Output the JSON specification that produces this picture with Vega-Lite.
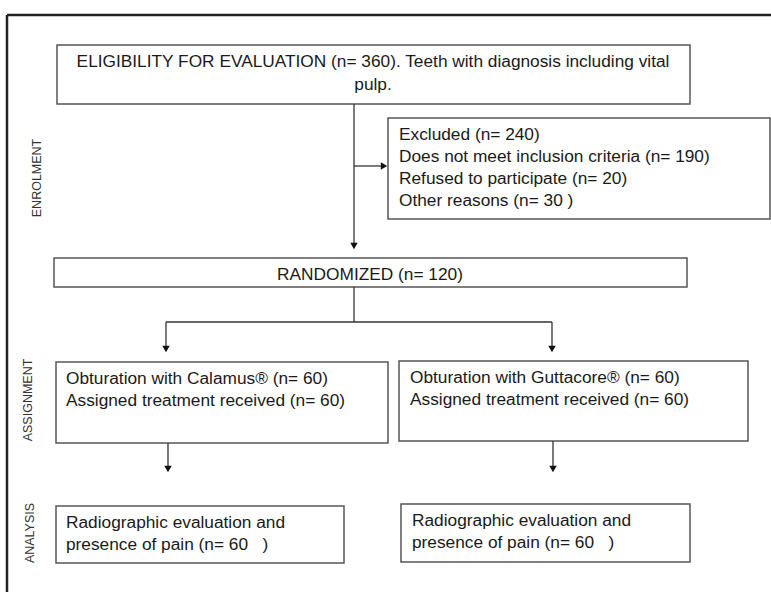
{
  "$schema": "https://vega.github.io/schema/vega-lite/v6.json",
  "width": 771,
  "height": 592,
  "autosize": "none",
  "padding": 0,
  "background": "white",
  "config": {"view": {"stroke": null}, "axis": {"disable": true}},
  "datasets": {
    "boxes": [
      {"x": 57, "x2": 690, "y": 45, "y2": 104},
      {"x": 388, "x2": 770, "y": 118, "y2": 219},
      {"x": 54, "x2": 687, "y": 258, "y2": 287},
      {"x": 56, "x2": 388, "y": 362, "y2": 443},
      {"x": 399, "x2": 748, "y": 361, "y2": 441},
      {"x": 56, "x2": 344, "y": 506, "y2": 563},
      {"x": 401, "x2": 690, "y": 504, "y2": 562}
    ],
    "lines": [
      {"x": 354, "x2": 354, "y": 104, "y2": 246},
      {"x": 354, "x2": 383, "y": 166, "y2": 166},
      {"x": 354, "x2": 354, "y": 287, "y2": 322},
      {"x": 166, "x2": 552, "y": 322, "y2": 322},
      {"x": 166, "x2": 166, "y": 322, "y2": 348},
      {"x": 552, "x2": 552, "y": 322, "y2": 348},
      {"x": 168, "x2": 168, "y": 443, "y2": 468},
      {"x": 553, "x2": 553, "y": 441, "y2": 468}
    ],
    "arrows": [
      {"x": 354, "y": 246, "dir": "down"},
      {"x": 166, "y": 349, "dir": "down"},
      {"x": 552, "y": 349, "dir": "down"},
      {"x": 168, "y": 469, "dir": "down"},
      {"x": 553, "y": 469, "dir": "down"},
      {"x": 384, "y": 166, "dir": "right"}
    ],
    "frame": [
      {"x": 7, "x2": 771, "y": 15, "y2": 15},
      {"x": 7, "x2": 7, "y": 15, "y2": 592}
    ],
    "ctext": [
      {"x": 373, "y": 62, "t": "ELIGIBILITY FOR EVALUATION (n= 360). Teeth with diagnosis including vital"},
      {"x": 373, "y": 85, "t": "pulp."},
      {"x": 370, "y": 275, "t": "RANDOMIZED (n= 120)"}
    ],
    "ltext": [
      {"x": 399, "y": 135, "t": "Excluded (n= 240)"},
      {"x": 399, "y": 157, "t": "Does not meet inclusion criteria (n= 190)"},
      {"x": 399, "y": 179, "t": "Refused to participate (n= 20)"},
      {"x": 399, "y": 201, "t": "Other reasons (n= 30 )"},
      {"x": 66, "y": 379, "t": "Obturation with Calamus® (n= 60)"},
      {"x": 66, "y": 401, "t": "Assigned treatment received (n= 60)"},
      {"x": 410, "y": 378, "t": "Obturation with Guttacore® (n= 60)"},
      {"x": 410, "y": 400, "t": "Assigned treatment received (n= 60)"},
      {"x": 66, "y": 523, "t": "Radiographic evaluation and"},
      {"x": 66, "y": 545, "t": "presence of pain (n= 60\u00a0\u00a0\u00a0)"},
      {"x": 412, "y": 521, "t": "Radiographic evaluation and"},
      {"x": 412, "y": 543, "t": "presence of pain (n= 60\u00a0\u00a0\u00a0)"}
    ],
    "vtext": [
      {"x": 37, "y": 178, "t": "ENROLMENT"},
      {"x": 28, "y": 400, "t": "ASSIGNMENT"},
      {"x": 30, "y": 533, "t": "ANALYSIS"}
    ]
  },
  "encoding": {
    "x": {"field": "x", "type": "quantitative", "scale": {"domain": [0, 771], "range": [0, 771], "nice": false, "zero": false}},
    "y": {"field": "y", "type": "quantitative", "scale": {"domain": [0, 592], "range": [0, 592], "nice": false, "zero": false}}
  },
  "layer": [
    {
      "data": {"name": "boxes"},
      "mark": {"type": "rect", "fill": "white", "stroke": "#555555", "strokeWidth": 1.5},
      "encoding": {"x2": {"field": "x2"}, "y2": {"field": "y2"}}
    },
    {
      "data": {"name": "lines"},
      "mark": {"type": "rule", "stroke": "#333333", "strokeWidth": 1.3},
      "encoding": {"x2": {"field": "x2"}, "y2": {"field": "y2"}}
    },
    {
      "data": {"name": "frame"},
      "mark": {"type": "rule", "stroke": "#222222", "strokeWidth": 2.5},
      "encoding": {"x2": {"field": "x2"}, "y2": {"field": "y2"}}
    },
    {
      "data": {"name": "arrows"},
      "mark": {"type": "point", "filled": true, "color": "#111111", "size": 55, "opacity": 1},
      "encoding": {
        "shape": {"field": "dir", "type": "nominal", "scale": {"domain": ["down", "right"], "range": ["triangle-down", "triangle-right"]}, "legend": null}
      }
    },
    {
      "data": {"name": "ctext"},
      "mark": {"type": "text", "font": "Liberation Sans", "fontSize": 17.3, "align": "center", "baseline": "middle", "color": "#1a1a1a"},
      "encoding": {"text": {"field": "t"}}
    },
    {
      "data": {"name": "ltext"},
      "mark": {"type": "text", "font": "Liberation Sans", "fontSize": 17.3, "align": "left", "baseline": "middle", "color": "#1a1a1a"},
      "encoding": {"text": {"field": "t"}}
    },
    {
      "data": {"name": "vtext"},
      "mark": {"type": "text", "font": "Liberation Sans", "fontSize": 12.5, "align": "center", "baseline": "middle", "angle": 270, "color": "#333333"},
      "encoding": {"text": {"field": "t"}}
    }
  ]
}
